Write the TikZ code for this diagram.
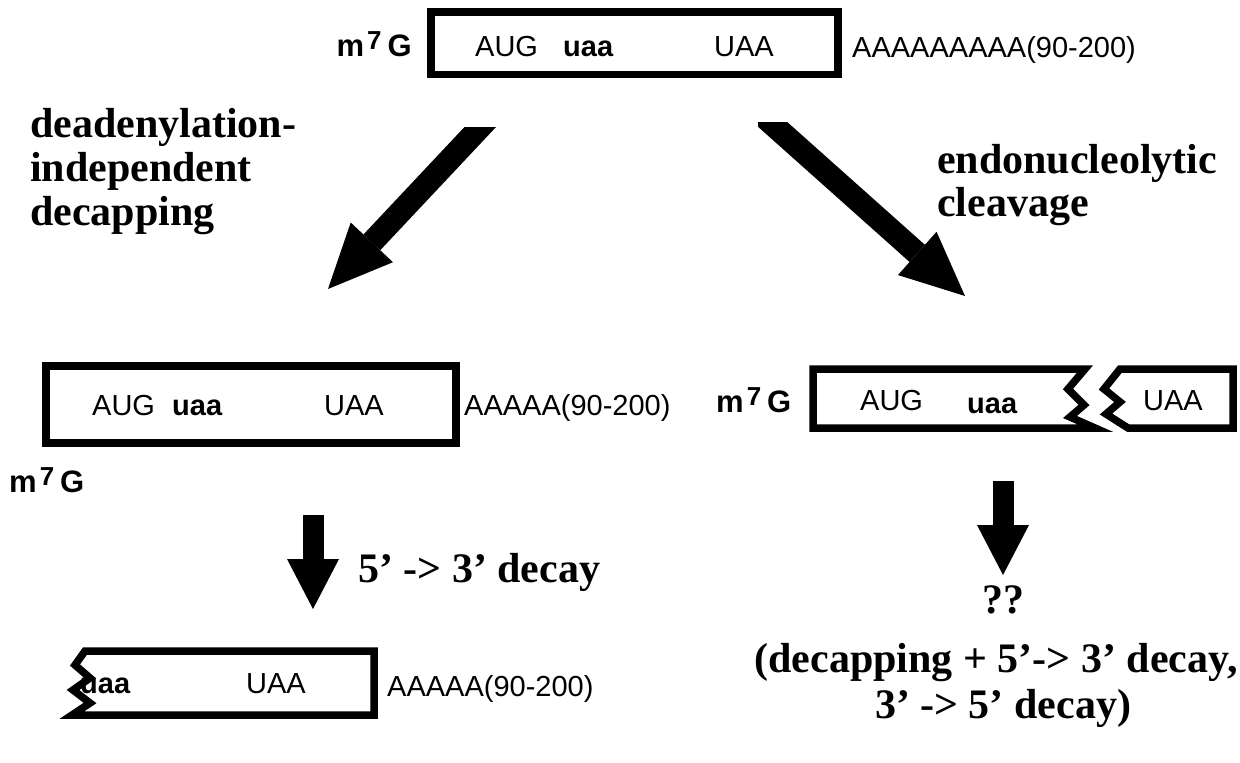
\documentclass[tikz,border=0pt]{standalone}
\usepackage{fontspec}
\setmainfont{Liberation Serif}
\setsansfont{Liberation Sans}
\usetikzlibrary{calc}
\newcommand{\mG}{m\hspace{3pt}\raisebox{7pt}{\fontsize{26}{26}\selectfont 7}\hspace{6pt}G}
\newcommand{\fatarrow}[5]{%
  \coordinate (fa-base) at ($(#2)!#5!(#1)$);
  \draw[line width=#3] (#1) -- (fa-base);
  \fill (#2) -- ($(fa-base)!#4!90:(#2)$) -- ($(fa-base)!#4!-90:(#2)$) -- cycle;
}
\begin{document}
\begin{tikzpicture}[x=1pt,y=-1pt,
  box/.style={line width=7.5pt, line join=miter, miter limit=10},
  seq/.style={font=\sffamily\fontsize{29}{29}\selectfont, anchor=base west, inner sep=0pt},
  seqb/.style={font=\sffamily\bfseries\fontsize{29}{29}\selectfont, anchor=base west, inner sep=0pt},
  capstyle/.style={font=\sffamily\bfseries\fontsize{31}{31}\selectfont, anchor=base west, inner sep=0pt},
  lab/.style={font=\bfseries\fontsize{42}{44}\selectfont, anchor=base west, inner sep=0pt},
  labc/.style={font=\bfseries\fontsize{42}{44}\selectfont, anchor=base, inner sep=0pt},
]
\fill[white] (0,0) rectangle (1240,763);
\useasboundingbox (0,0) rectangle (1240,763);

% ---------- top mRNA ----------
\draw[box] (431,12) rectangle (838,74.5);
\node[capstyle, anchor=base east] (capT) at (412,56) {\mG};
\node[seq]  (augT) at (475,56) {AUG};
\node[seqb] (uaaT) at (563,56) {uaa};
\node[seq]  (UAAT) at (714,56) {UAA};
\node[seq]  (polyT) at (852,57) {AAAAAAAAA(90-200)};

% ---------- labels ----------
\node[lab] (l1a) at (30,137) {deadenylation-};
\node[lab] (l1b) at (30,181) {independent};
\node[lab] (l1c) at (30,225) {decapping};
\node[lab] (l2a) at (937,173) {endonucleolytic};
\node[lab] (l2b) at (937,216) {cleavage};

% ---------- diagonal arrows ----------
\coordinate (a1t) at (500,106);
\coordinate (a1h) at (328,289);
\coordinate (a2t) at (752,106);
\coordinate (a2h) at (965,296);
\begin{scope}
  \clip (0,127) rectangle (497,763);
  \fatarrow{a1t}{a1h}{23pt}{29pt}{64pt}
\end{scope}
\begin{scope}
  \clip (758,122) rectangle (1240,763);
  \fatarrow{a2t}{a2h}{23pt}{29pt}{64pt}
\end{scope}

% ---------- middle left ----------
\draw[box] (46,366) rectangle (456,443);
\node[seq]  (augL) at (92,415) {AUG};
\node[seqb] (uaaL) at (172,415) {uaa};
\node[seq]  (UAAL) at (324,415) {UAA};
\node[seq]  (polyL) at (464,415) {AAAAA(90-200)};
\node[capstyle] (capL) at (9,492) {\mG};

% ---------- middle right ----------
\node[capstyle] (capR) at (716,412) {\mG};
\draw[box] (813,369) -- (1085,369) -- (1068,389) -- (1084,405) -- (1070,417) -- (1095,428) -- (813,428) -- cycle;
\draw[box] (1120,369) -- (1233,369) -- (1233,428) -- (1128,428) -- (1106,414) -- (1120,402) -- (1104,389) -- cycle;
\node[seq]  (augR) at (860,410) {AUG};
\node[seqb] (uaaR) at (967,413) {uaa};
\node[seq]  (UAAR) at (1143,410) {UAA};

% ---------- vertical arrows ----------
\coordinate (a3t) at (313,515);
\coordinate (a3h) at (313,609);
\coordinate (a4t) at (1003,481);
\coordinate (a4h) at (1003,575);
\fatarrow{a3t}{a3h}{21pt}{26pt}{50pt}
\fatarrow{a4t}{a4h}{21pt}{26pt}{50pt}
\node[lab] (decay) at (358,582) {5’ -> 3’ decay};

% ---------- bottom left ----------
\draw[box] (85,651) -- (374,651) -- (374,715) -- (72,715) -- (90,703) -- (73,690) -- (90,678) -- (75,665) -- cycle;
\node[seqb] (uaaB) at (80,693) {uaa};
\node[seq]  (UAAB) at (246,693) {UAA};
\node[seq]  (polyB) at (387,696) {AAAAA(90-200)};

% ---------- bottom right ----------
\node[labc] (q1) at (1003,613) {??};
\node[labc] (q2) at (996,672) {(decapping + 5’-> 3’ decay,};
\node[labc] (q3) at (1003,718) {3’ -> 5’ decay)};
\end{tikzpicture}
\end{document}
